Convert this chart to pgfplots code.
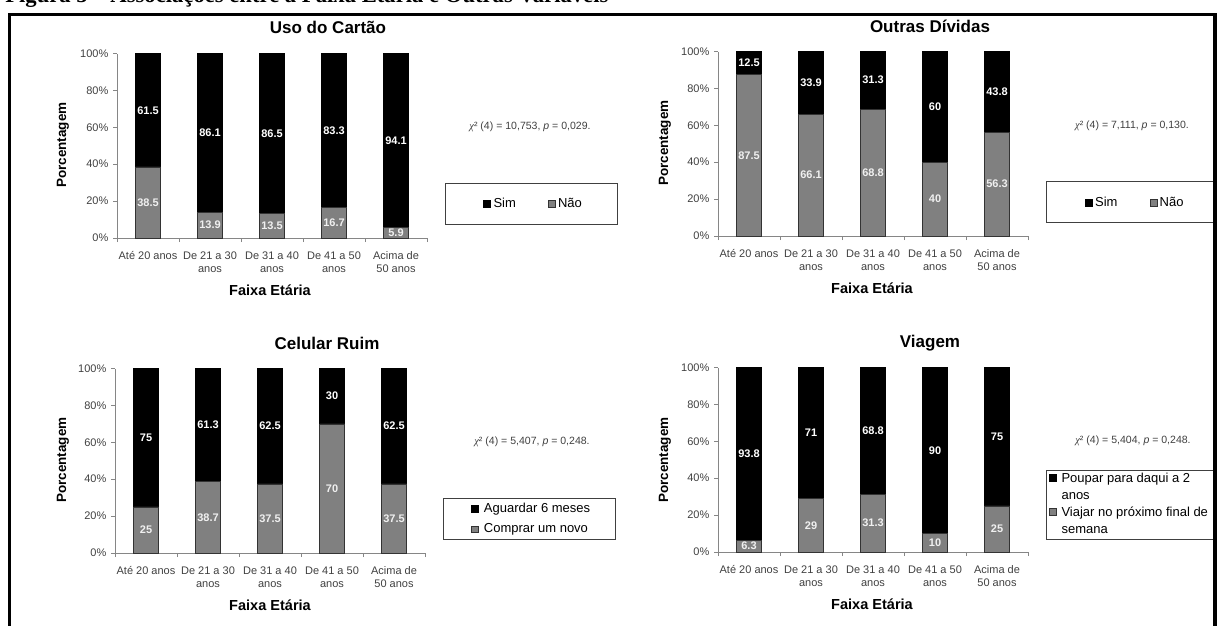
\documentclass[border=0pt]{standalone}
\usepackage{fontspec}
\setmainfont{Liberation Sans}
\newfontfamily\serif{Liberation Serif}
\usepackage{pgfplots}
\usepackage{pgfplotstable}
\pgfplotsset{compat=1.18}

\definecolor{bargray}{RGB}{128,128,128}
\definecolor{axisgray}{RGB}{134,134,134}
\definecolor{ticktext}{RGB}{64,64,64}

% Percentages per age group (x = group index)
\pgfplotstableread{
x sim nao
0 61.5 38.5
1 86.1 13.9
2 86.5 13.5
3 83.3 16.7
4 94.1 5.9
}\uso
\pgfplotstableread{
x sim nao
0 12.5 87.5
1 33.9 66.1
2 31.3 68.8
3 60   40
4 43.8 56.3
}\dividas
\pgfplotstableread{
x aguardar comprar
0 75   25
1 61.3 38.7
2 62.5 37.5
3 30   70
4 62.5 37.5
}\celular
\pgfplotstableread{
x poupar viajar
0 93.8 6.3
1 71   29
2 68.8 31.3
3 90   10
4 75   25
}\viagem

\pgfplotsset{
  faixa/.style={
    scale only axis, width=232.5pt, height=138.375pt,
    xmin=-0.5, xmax=4.5, ymin=0, ymax=100,
    axis x line*=bottom, axis y line*=left,
    axis line style={axisgray, line width=0.6pt},
    xtick={0,...,4},
    xticklabels={Até 20 anos, De 21 a 30\\anos, De 31 a 40\\anos, De 41 a 50\\anos, Acima de\\50 anos},
    minor xtick={-0.5,0.5,1.5,2.5,3.5,4.5},
    major x tick style={draw=none},
    minor x tick style={axisgray, line width=0.6pt},
    ytick={0,20,...,100},
    y tick style={axisgray, line width=0.6pt},
    tick align=outside, major tick length=3pt, minor tick length=3pt,
    yticklabel={\pgfmathprintnumber{\tick}\%},
    /pgf/number format/assume math mode=true,
    tick label style={font=\fontsize{8.25}{9.75}\selectfont, text=ticktext},
    xticklabel style={align=center, yshift=-3.5pt},
    clip=false,
    legend cell align=left,
    legend style={draw=none, fill=none, inner sep=0pt,
      font=\fontsize{9.75}{11}\selectfont},
  },
  sqlegend/.style={legend image code/.code={\draw[##1] (0pt,-2.6pt) rectangle (5.25pt,2.6pt);}},
  topbar/.style={ybar, bar width=18.75pt, bar shift=0pt, fill=black, draw=black, line width=0.4pt, sqlegend},
  lowbar/.style={ybar, bar width=18.75pt, bar shift=0pt, fill=bargray, draw=black!80, line width=0.4pt, sqlegend},
  vlabel/.style={forget plot, only marks, mark=*, mark size=0pt, mark options={draw=none, fill=none},
    nodes near coords, point meta=explicit symbolic,
    nodes near coords style={anchor=center, inner sep=0pt, font=\bfseries\fontsize{8.25}{9}\selectfont, text=#1}},
}

\begin{document}
\begin{tikzpicture}[x=0.75pt, y=0.75pt]
\path[use as bounding box, clip] (0,0) rectangle (1224,-625);

% ---------- Uso do Cartão ----------
\begin{axis}[faixa, at={(87.75pt,-178.5pt)}, anchor=south west,
  legend columns=2,
  legend style={at={(1.345,0.184)}, anchor=center,
    /tikz/every even column/.append style={column sep=22pt}}]
\addplot[topbar] table[x=x, y expr=\thisrow{nao}+\thisrow{sim}] {\uso};
\addlegendentry{Sim}
\addplot[lowbar] table[x=x, y=nao] {\uso};
\addlegendentry{Não}
\addplot[vlabel=white] table[x=x, y expr=\thisrow{nao}+\thisrow{sim}/2, meta=sim] {\uso};
\addplot[vlabel=black!6] table[x=x, y expr=\thisrow{nao}/2, meta=nao] {\uso};
\end{axis}

% ---------- Outras Dívidas ----------
\begin{axis}[faixa, at={(538.5pt,-177pt)}, anchor=south west,
  legend columns=2,
  legend style={at={(1.347,0.179)}, anchor=center,
    /tikz/every even column/.append style={column sep=22pt}}]
\addplot[topbar] table[x=x, y expr=\thisrow{nao}+\thisrow{sim}] {\dividas};
\addlegendentry{Sim}
\addplot[lowbar] table[x=x, y=nao] {\dividas};
\addlegendentry{Não}
\addplot[vlabel=white] table[x=x, y expr=\thisrow{nao}+\thisrow{sim}/2, meta=sim] {\dividas};
\addplot[vlabel=black!6] table[x=x, y expr=\thisrow{nao}/2, meta=nao] {\dividas};
\end{axis}

% ---------- Celular Ruim ----------
\begin{axis}[faixa, at={(86.25pt,-414.75pt)}, anchor=south west,
  legend style={at={(1.345,0.185)}, anchor=center, row sep=3pt,
    /tikz/every odd column/.append style={column sep=2pt}}]
\addplot[topbar] table[x=x, y expr=\thisrow{comprar}+\thisrow{aguardar}] {\celular};
\addlegendentry{Aguardar 6 meses}
\addplot[lowbar] table[x=x, y=comprar] {\celular};
\addlegendentry{Comprar um novo}
\addplot[vlabel=white] table[x=x, y expr=\thisrow{comprar}+\thisrow{aguardar}/2, meta=aguardar] {\celular};
\addplot[vlabel=black!6] table[x=x, y expr=\thisrow{comprar}/2, meta=comprar] {\celular};
\end{axis}

% ---------- Viagem ----------
% long entries wrap onto a second legend row with no key
\begin{axis}[faixa, at={(538.5pt,-414pt)}, anchor=south west,
  legend style={at={(1.068,0.44)}, anchor=north west, row sep=2.6pt,
    nodes={inner sep=0.5pt},
    /tikz/every odd column/.append style={column sep=3pt}}]
\addplot[topbar] table[x=x, y expr=\thisrow{viajar}+\thisrow{poupar}] {\viagem};
\addlegendentry{\strut Poupar para daqui a 2}
\addlegendimage{empty legend}
\addlegendentry{\strut anos}
\addplot[lowbar] table[x=x, y=viajar] {\viagem};
\addlegendentry{\strut Viajar no próximo final de}
\addlegendimage{empty legend}
\addlegendentry{\strut semana}
\addplot[vlabel=white] table[x=x, y expr=\thisrow{viajar}+\thisrow{poupar}/2, meta=poupar] {\viagem};
\addplot[vlabel=black!6] table[x=x, y expr=\thisrow{viajar}/2, meta=viajar] {\viagem};
\end{axis}

% titles
\begin{scope}[every node/.style={font=\bfseries\fontsize{12.75}{14}\selectfont}]
\node at (328,-27) {Uso do Cartão};
\node at (930,-26) {Outras Dívidas};
\node at (327,-343) {Celular Ruim};
\node at (930,-343) {Viagem};
\end{scope}

% axis labels
\begin{scope}[every node/.style={font=\bfseries\fontsize{10.1}{12}\selectfont, rotate=90}]
\node at (63,-145) {Porcentagem};
\node at (665,-143) {Porcentagem};
\node at (63,-460) {Porcentagem};
\node at (665,-460) {Porcentagem};
\end{scope}
\begin{scope}[every node/.style={font=\bfseries\fontsize{10.9}{12}\selectfont}]
\node at (270,-290) {Faixa Etária};
\node at (872,-288) {Faixa Etária};
\node at (270,-605) {Faixa Etária};
\node at (872,-604) {Faixa Etária};
\end{scope}

% test statistics
\begin{scope}[every node/.style={font=\fontsize{7.9}{9}\selectfont, text=ticktext}]
\node at (530,-127) {{\serif\itshape χ}² (4) = 10,753, {\itshape p} = 0,029.};
\node at (1132,-126) {{\serif\itshape χ}² (4) = 7,111, {\itshape p} = 0,130.};
\node at (532,-442) {{\serif\itshape χ}² (4) = 5,407, {\itshape p} = 0,248.};
\node at (1133,-441) {{\serif\itshape χ}² (4) = 5,404, {\itshape p} = 0,248.};
\end{scope}

% legend frames
\begin{scope}[black!75, line width=0.6pt]
\draw (445,-183) rectangle (617,-224);
\draw (1215,-181) -- (1046,-181) -- (1046,-222) -- (1215,-222);
\draw (443,-498) rectangle (615,-539);
\draw (1215,-470) -- (1046,-470) -- (1046,-539) -- (1215,-539);
\end{scope}

% page heading and outer frame
\node[anchor=base west, inner sep=0pt, font=\serif\bfseries\fontsize{17}{20}\selectfont] at (5,-2.5)
  {Figura 5 – Associações entre a Faixa Etária e Outras Variáveis};
\draw[line width=2.8pt, line join=miter] (9.5,-640) -- (9.5,-14.5) -- (1215,-14.5) -- (1215,-640);
\end{tikzpicture}
\end{document}
